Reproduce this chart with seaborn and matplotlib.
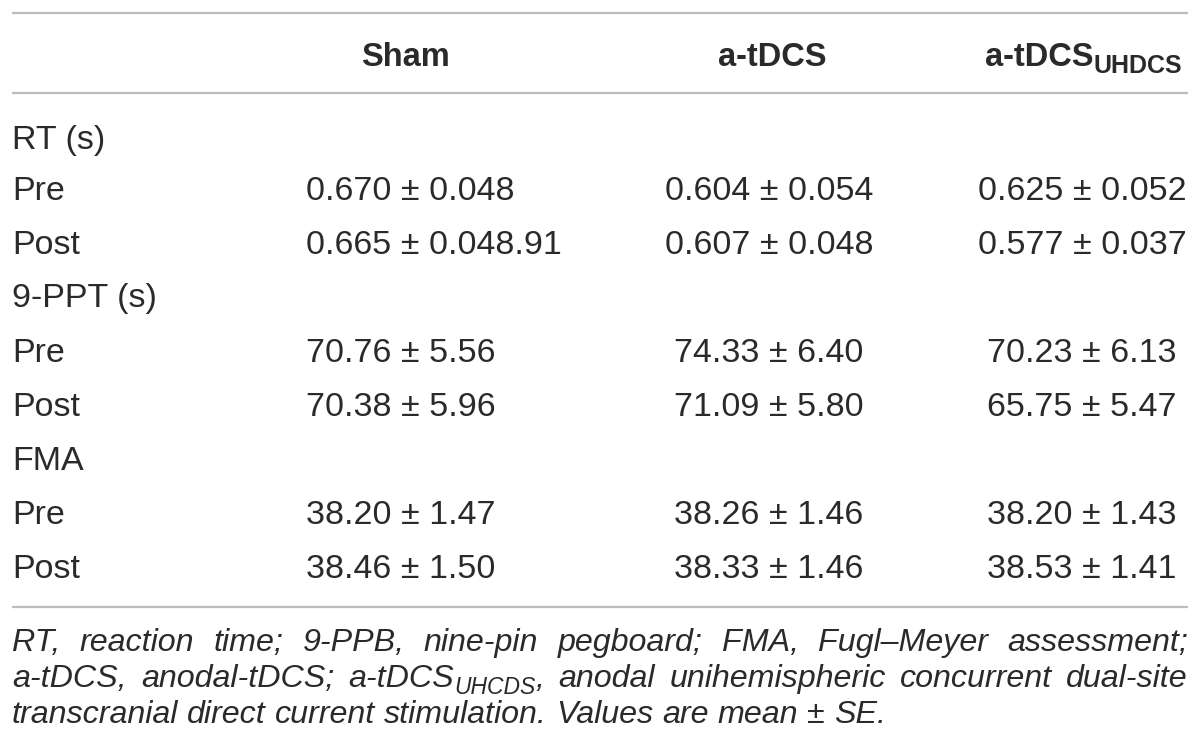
import matplotlib
matplotlib.use("Agg")
import matplotlib.pyplot as plt
import seaborn as sns

# ---------------- data ----------------
group_names = ["Sham", "a-tDCS", "a-tDCS"]
group_subs = ["", "", "UHDCS"]
sections = ["RT (s)", "9-PPT (s)", "FMA"]
phases = ["Pre", "Post"]
sham_vals = ["0.670 ± 0.048", "0.665 ± 0.048.91", "70.76 ± 5.56",
             "70.38 ± 5.96", "38.20 ± 1.47", "38.46 ± 1.50"]
atdcs_vals = ["0.604 ± 0.054", "0.607 ± 0.048", "74.33 ± 6.40",
              "71.09 ± 5.80", "38.26 ± 1.46", "38.33 ± 1.46"]
uhdcs_vals = ["0.625 ± 0.052", "0.577 ± 0.037", "70.23 ± 6.13",
              "65.75 ± 5.47", "38.20 ± 1.43", "38.53 ± 1.41"]
footnote_lines = [
    [[("RT,", "n")], [("reaction", "n")], [("time;", "n")], [("9-PPB,", "n")],
     [("nine-pin", "n")], [("pegboard;", "n")], [("FMA,", "n")],
     [("Fugl–Meyer", "n")], [("assessment;", "n")]],
    [[("a-tDCS,", "n")], [("anodal-tDCS;", "n")], [("a-tDCS", "n"), ("UHCDS", "s"), (",", "n")],
     [("anodal", "n")], [("unihemispheric", "n")], [("concurrent", "n")], [("dual-site", "n")]],
    [[("transcranial", "n")], [("direct", "n")], [("current", "n")], [("stimulation.", "n")],
     [("Values", "n")], [("are", "n")], [("mean", "n")], [("±", "n")], [("SE.", "n")]],
]

# ---------------- style ----------------
sns.set_theme(style="white")
plt.rcParams["font.family"] = ["Liberation Sans", "DejaVu Sans"]
TXT = "#2a2a2a"
RULE = "#bdbdbd"
W, H = 1200, 749

fig = plt.figure(figsize=(W / 100, H / 100), dpi=100)
ax = fig.add_axes([0, 0, 1, 1])
ax.set_xlim(0, W)
ax.set_ylim(H, 0)
ax.axis("off")
renderer = fig.canvas.get_renderer()

def width_of(t):
    bb = t.get_window_extent(renderer=renderer)
    return bb.width

X0, X1 = 12, 1188
# rules
for yy in (13, 93, 607):
    ax.plot([X0, X1], [yy, yy], color=RULE, lw=1.6, solid_capstyle="butt")

# header
head_fs = 23.5
sub_fs = 18
head_centers = [405, 772, 1084]
head_y = 66
for name, sub, cx in zip(group_names, group_subs, head_centers):
    t1 = ax.text(0, head_y, name, fontsize=head_fs, fontweight="bold", color=TXT,
                 ha="left", va="baseline")
    w1 = width_of(t1)
    w2 = 0
    t2 = None
    if sub:
        t2 = ax.text(0, head_y + 7, sub, fontsize=sub_fs, fontweight="bold", color=TXT,
                     ha="left", va="baseline")
        w2 = width_of(t2)
    start = cx - (w1 + w2) / 2
    t1.set_x(start)
    if t2 is not None:
        t2.set_x(start + w1)

# body
body_fs = 24.5
row_y = [140, 192, 245, 299, 353, 407, 461, 516, 570]
ri = 0
vi = 0
for sec in sections:
    ax.text(X0, row_y[ri], sec, fontsize=body_fs, color=TXT, ha="left", va="center")
    ri += 1
    for ph in phases:
        y = row_y[ri]
        ax.text(X0, y, ph, fontsize=body_fs, color=TXT, ha="left", va="center")
        ax.text(306, y, sham_vals[vi], fontsize=body_fs, color=TXT, ha="left", va="center")
        ax.text(769, y, atdcs_vals[vi], fontsize=body_fs, color=TXT, ha="center", va="center")
        ax.text(1082, y, uhdcs_vals[vi], fontsize=body_fs, color=TXT, ha="center", va="center")
        ri += 1
        vi += 1

# footnote (justified)
foot_fs = 23.2
foot_sub_fs = 16.5
foot_base = [651, 687, 723]
for li, words in enumerate(footnote_lines):
    yb = foot_base[li]
    placed = []
    widths = []
    for word in words:
        runs = []
        wsum = 0
        for txt, kind in word:
            if kind == "s":
                t = ax.text(0, yb + 7, txt, fontsize=foot_sub_fs, style="italic",
                            color=TXT, ha="left", va="baseline")
            else:
                t = ax.text(0, yb, txt, fontsize=foot_fs, style="italic",
                            color=TXT, ha="left", va="baseline")
            w = width_of(t)
            runs.append((t, w))
            wsum += w
        placed.append(runs)
        widths.append(wsum)
    space_t = ax.text(0, yb, "a a", fontsize=foot_fs, style="italic")
    a_t = ax.text(0, yb, "aa", fontsize=foot_fs, style="italic")
    natural_space = width_of(space_t) - width_of(a_t)
    space_t.remove()
    a_t.remove()
    if li < len(footnote_lines) - 1:
        gap = (X1 - X0 - sum(widths)) / (len(words) - 1)
    else:
        gap = natural_space
    x = X0
    for runs, w in zip(placed, widths):
        xx = x
        for t, rw in runs:
            t.set_x(xx)
            xx += rw
        x += w + gap

fig.savefig("out.png", dpi=100, facecolor="white")
